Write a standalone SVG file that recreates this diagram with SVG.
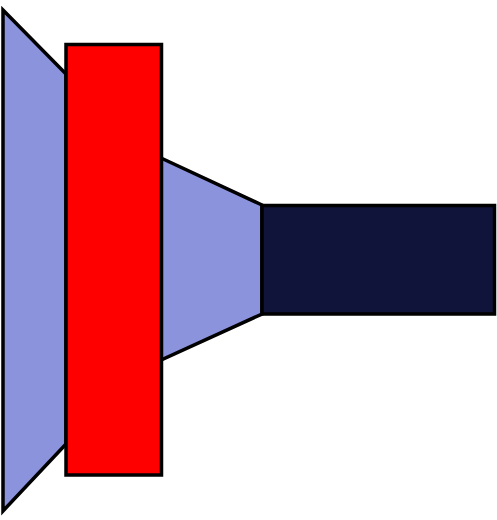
<svg xmlns="http://www.w3.org/2000/svg" width="497" height="520" viewBox="0 0 497 520">
<style>
.s{stroke:#000;stroke-width:3.5;stroke-linejoin:miter}
.b{fill:#8b93dd}
</style>
<rect width="497" height="520" fill="#fff"/>
<g id="left-cone"><polygon class="s b" points="3,10 66,74 66,444 3,511"/></g>
<g id="mid-cone"><polygon class="s b" points="161,158 262,205 262,314 161,360"/></g>
<g id="red-block"><rect class="s" x="66" y="44.5" width="95.5" height="430.5" fill="#ff0000"/></g>
<g id="dark-block"><rect class="s" x="262" y="205.5" width="232.5" height="108.5" fill="#10133a"/></g>
<g id="connectors"></g>
</svg>
